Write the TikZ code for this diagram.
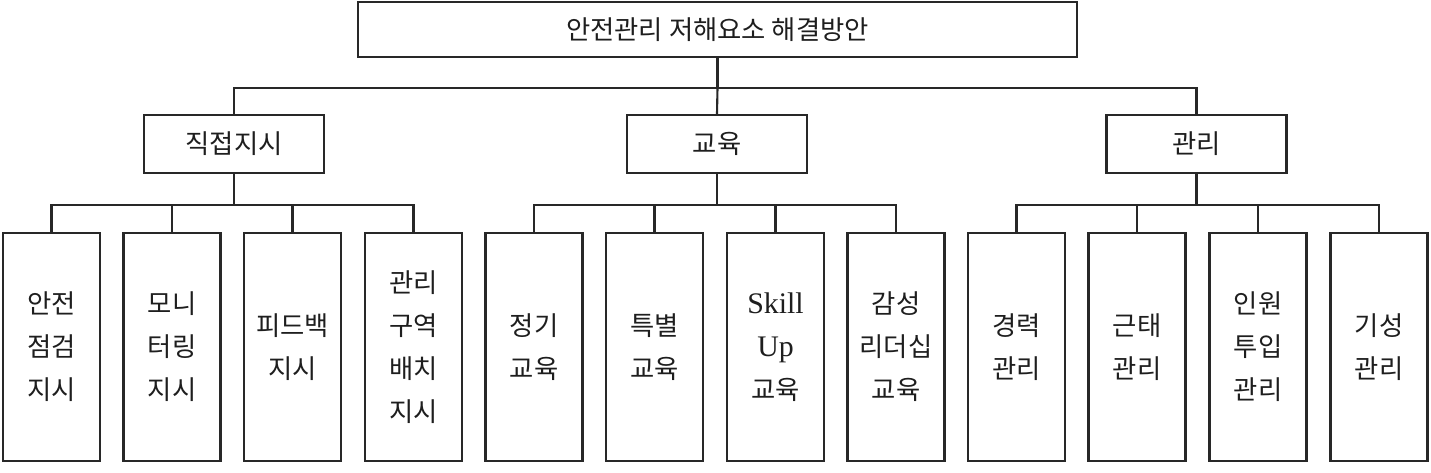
\documentclass[tikz,border=0pt]{standalone}
\usepackage{fontspec}
\setmainfont{Liberation Serif}
\newfontfamily\krfont{Noto Sans CJK KR}
\definecolor{orgline}{RGB}{40,40,40}
\definecolor{orgtext}{RGB}{30,30,30}
\usetikzlibrary{positioning}

\begin{document}
\begin{tikzpicture}[x=0.02cm,y=-0.02cm,
  orgtop/.style={draw=orgline,line width=1.2pt,minimum width=14.38cm,minimum height=1.1cm,
    font=\krfont\fontsize{15}{20}\selectfont,text=orgtext,inner sep=0pt},
  orgmid/.style={draw=orgline,line width=1.2pt,minimum width=3.6cm,minimum height=1.16cm,
    font=\krfont\fontsize{15}{20}\selectfont,text=orgtext,inner sep=0pt},
  orgleaf/.style={draw=orgline,line width=1.2pt,minimum width=1.94cm,minimum height=4.56cm,
    align=center,font=\krfont\fontsize{15}{24.5}\selectfont,text=orgtext,inner sep=0pt},
  orglink/.style={draw=orgline,line width=1.2pt}
]
  \useasboundingbox (0,0) rectangle (1431,473);
  % Top: overall goal
  \node[orgtop] (top) at (717.5,29.5) {안전관리 저해요소 해결방안};
  % Middle level
  \node[orgmid] (jik) at (234,144) {직접지시};
  \node[orgmid] (edu) at (717,144) {교육};
  \node[orgmid] (mgt) at (1196.5,144) {관리};
  % Group 1: 직접지시
  \node[orgleaf] (j1) at (51.5,347) {안전\\점검\\지시};
  \node[orgleaf] (j2) at (172,347) {모니\\터링\\지시};
  \node[orgleaf] (j3) at (292.5,347) {피드백\\지시};
  \node[orgleaf] (j4) at (413.5,347) {관리\\구역\\배치\\지시};
  % Group 2: 교육
  \node[orgleaf] (e1) at (534,347) {정기\\교육};
  \node[orgleaf] (e2) at (654.5,347) {특별\\교육};
  \node[orgleaf] (e3) at (775.5,347) {{\rmfamily\fontsize{17}{24.5}\selectfont Skill}\\{\rmfamily\fontsize{17}{24.5}\selectfont Up}\\교육};
  \node[orgleaf] (e4) at (896,347) {감성\\리더십\\교육};
  % Group 3: 관리
  \node[orgleaf] (m1) at (1016.5,347) {경력\\관리};
  \node[orgleaf] (m2) at (1137,347) {근태\\관리};
  \node[orgleaf] (m3) at (1258,347) {인원\\투입\\관리};
  \node[orgleaf] (m4) at (1379,347) {기성\\관리};
  % Connectors: top to middle
  \coordinate (topbus) at ([yshift=-30*0.02cm]top.south);
  \draw[orglink] (top.south) -- (topbus);
  \draw[orglink] (topbus) -| (jik.north);
  \draw[orglink] (topbus) -| (mgt.north);
  \draw[orglink] (topbus) -- (edu.north);
  % Connectors: middle to leaves
  \coordinate (jikbus) at ([yshift=-31*0.02cm]jik.south);
  \coordinate (edubus) at ([yshift=-31*0.02cm]edu.south);
  \coordinate (mgtbus) at ([yshift=-31*0.02cm]mgt.south);
  \draw[orglink] (jik.south) -- (jikbus);
  \draw[orglink] (edu.south) -- (edubus);
  \draw[orglink] (mgt.south) -- (mgtbus);
  \draw[orglink] (jikbus) -| (j1.north);
  \draw[orglink] (jikbus) -| (j2.north);
  \draw[orglink] (jikbus) -| (j3.north);
  \draw[orglink] (jikbus) -| (j4.north);
  \draw[orglink] (edubus) -| (e1.north);
  \draw[orglink] (edubus) -| (e2.north);
  \draw[orglink] (edubus) -| (e3.north);
  \draw[orglink] (edubus) -| (e4.north);
  \draw[orglink] (mgtbus) -| (m1.north);
  \draw[orglink] (mgtbus) -| (m2.north);
  \draw[orglink] (mgtbus) -| (m3.north);
  \draw[orglink] (mgtbus) -| (m4.north);
\end{tikzpicture}
\end{document}
